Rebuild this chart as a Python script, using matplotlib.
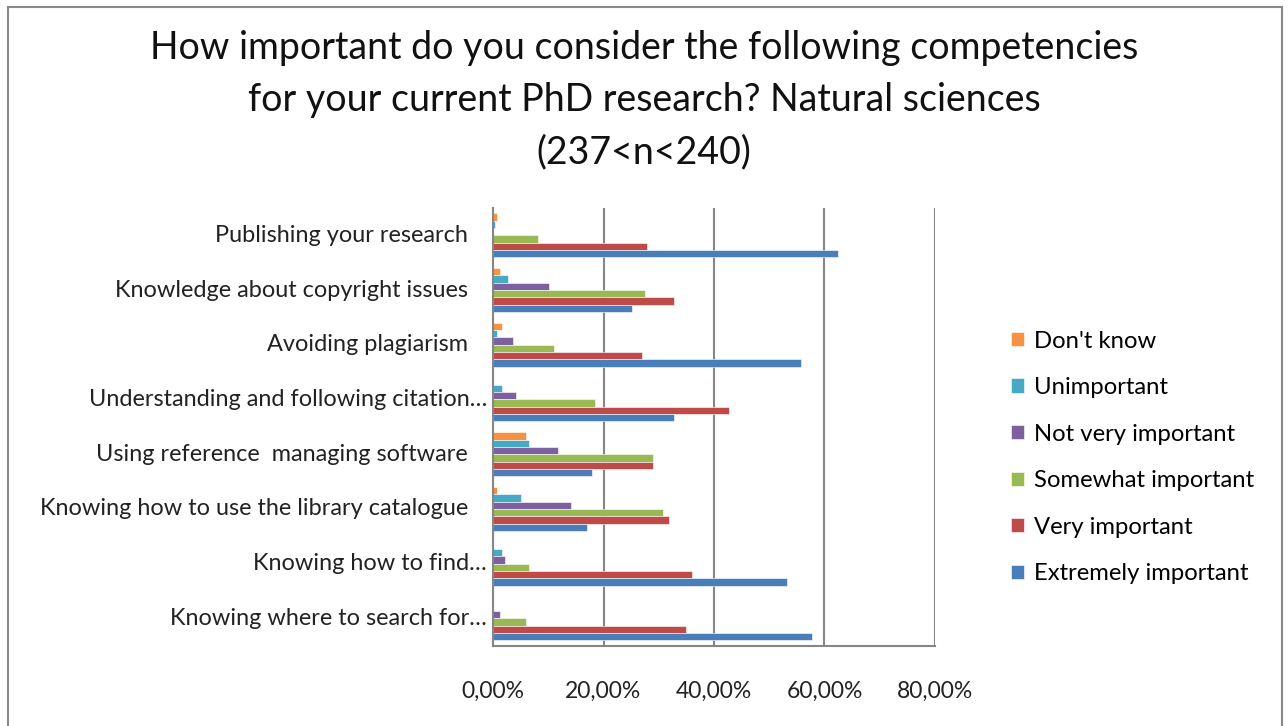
import matplotlib.pyplot as plt
from matplotlib.patches import Rectangle
from matplotlib.ticker import FuncFormatter
import numpy as np

plt.rcParams['font.family'] = ['Lato', 'DejaVu Sans']

# data (percent)
categories = [
    "Publishing your research",
    "Knowledge about copyright issues",
    "Avoiding plagiarism",
    "Understanding and following citation\u2026",
    "Using reference  managing software",
    "Knowing how to use the library catalogue",
    "Knowing how to find\u2026",
    "Knowing where to search for\u2026",
]
series = ["Don't know", "Unimportant", "Not very important",
          "Somewhat important", "Very important", "Extremely important"]

dont_know = [0.8, 1.3, 1.7, 0.0, 5.9, 0.8, 0.0, 0.0]
unimportant = [0.3, 2.8, 0.8, 1.7, 6.6, 5.0, 1.7, 0.0]
not_very = [0.0, 10.1, 3.7, 4.1, 11.7, 14.2, 2.1, 1.2]
somewhat = [8.2, 27.6, 11.1, 18.4, 28.9, 30.8, 6.6, 5.9]
very = [27.8, 32.8, 26.9, 42.8, 28.9, 31.8, 36.1, 35.0]
extremely = [62.5, 25.1, 55.7, 32.8, 18.0, 17.1, 53.2, 57.7]

values = [dont_know, unimportant, not_very, somewhat, very, extremely]
colors = ["#F69240", "#46AAC5", "#7D60A0", "#98B954", "#BE4B48", "#4A7EBB"]

fig = plt.figure(figsize=(12.88, 7.26), dpi=100)
# outer chart border
fig.patches.append(Rectangle((8/1288, -0.01), 1274/1288, 1 - 7/726 + 0.01,
                             transform=fig.transFigure, fill=False,
                             edgecolor="#888888", linewidth=1.5))

ax = fig.add_axes([493/1288, 1 - 645.7/726, 442/1288, 437.7/726])

n = len(categories)
bh = 0.134
y_center = np.arange(n)
for j, (vals, col, name) in enumerate(zip(values, colors, series)):
    ys = y_center + (j - 2.5) * bh
    ax.barh(ys, vals, height=bh, color=col, label=name,
            edgecolor="white", linewidth=0.4)

ax.set_ylim(n - 0.5, -0.5)
ax.set_xlim(0, 80)
ax.set_xticks([0, 20, 40, 60, 80])
ax.xaxis.set_major_formatter(FuncFormatter(lambda v, p: f"{v:.2f}%".replace(".", ",")))
ax.tick_params(axis="x", length=0, pad=25, labelsize=16.5, labelcolor="#222222")
ax.set_yticks([])

for i, cat in enumerate(categories):
    xpos = -0.014 if cat.endswith("\u2026") else -0.057
    ax.text(xpos, i, cat, transform=ax.get_yaxis_transform(),
            ha="right", va="center", fontsize=16.9, color="#222222")

ax.grid(axis="x", color="#868686", linewidth=1.5)
ax.set_axisbelow(True)
for s in ["top", "right"]:
    ax.spines[s].set_visible(False)
for s in ["left", "bottom"]:
    ax.spines[s].set_color("#868686")
    ax.spines[s].set_linewidth(1.5)

fig.text(0.5, 1 - 100/726, "How important do you consider the following competencies\n"
         "for your current PhD research? Natural sciences\n(237<n<240)",
         ha="center", va="center", fontsize=27, color="#111111", linespacing=1.55)

handles, labels = ax.get_legend_handles_labels()
fig.legend(handles, labels, loc="upper left", bbox_to_anchor=(989/1288, 1 - 309/726),
           frameon=False, fontsize=17.2, handlelength=0.55, handleheight=0.55,
           handletextpad=0.45, labelspacing=1.07)

fig.savefig("out.png", dpi=100)
